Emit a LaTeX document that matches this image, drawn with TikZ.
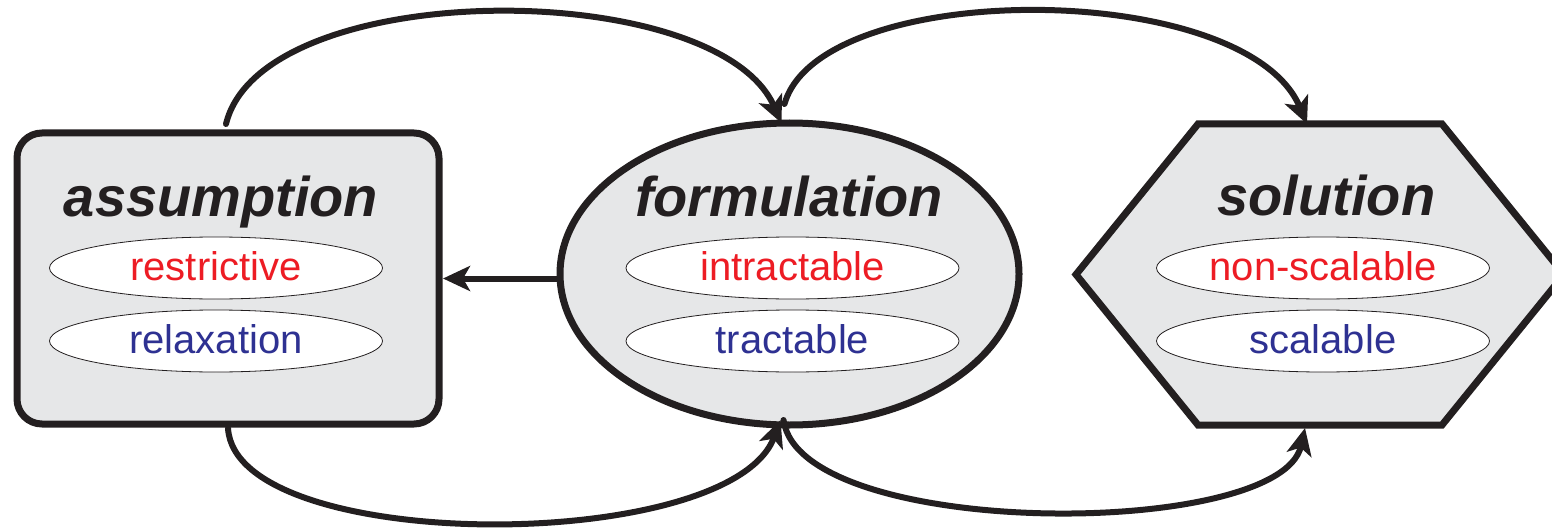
\documentclass[tikz,border=0pt]{standalone}
\usepackage{fontspec}
\setmainfont{Liberation Sans}
\usetikzlibrary{shapes.geometric,arrows.meta,calc}
\definecolor{boxgray}{HTML}{E6E7E8}
\definecolor{ink}{HTML}{231F20}
\definecolor{redtxt}{HTML}{ED1C24}
\definecolor{bluetxt}{HTML}{2E3192}
\begin{document}
\begin{tikzpicture}[x=1pt,y=-1pt,
  mainbox/.style={draw=ink, fill=boxgray, line width=7pt},
  title/.style={font=\fontsize{56}{60}\selectfont\bfseries\itshape, text=ink, anchor=base, inner sep=0pt},
  pill/.style={ellipse, draw=ink, fill=white, line width=0.8pt, minimum width=333pt, minimum height=62pt, inner sep=0pt, font=\fontsize{40}{44}\selectfont, text height=24pt, text depth=0pt},
  conn/.style={draw=ink, line width=6pt, line cap=round, -{Stealth[length=27pt,width=25pt,inset=7pt]}}
]
\useasboundingbox (0,0) rectangle (1552,532);

% assumption
\node[mainbox, rounded corners=25pt, minimum width=422pt, minimum height=291pt, inner sep=0pt, outer sep=0pt] (ass) at (228,278.5) {};
\node[title] (asst) at (221,216) {assumption};
\node[pill, text=redtxt] (ass1) at (216,268) {restrictive};
\node[pill, text=bluetxt] (ass2) at (216,341) {relaxation};

% formulation
\node[mainbox, ellipse, minimum width=459pt, minimum height=302pt, inner sep=0pt, outer sep=0pt] (form) at (789.5,274) {};
\node[title] (formt) at (789,216) {formulation};
\node[pill, text=redtxt] (form1) at (792.5,268) {intractable};
\node[pill, text=bluetxt] (form2) at (792.5,341) {tractable};

% solution
\node[draw=none, minimum width=244pt, minimum height=301pt, inner sep=0pt, outer sep=0pt] (sol) at (1320,274.5) {};
\draw[mainbox, line join=miter] (sol.north west) -- (sol.north east) -- ($(sol.east)+(122,0)$) -- (sol.south east) -- (sol.south west) -- ($(sol.west)-(122,0)$) -- cycle;
\node[title] (solt) at (1326.5,215) {solution};
\node[pill, text=redtxt] (sol1) at (1323,268) {non-scalable};
\node[pill, text=bluetxt] (sol2) at (1323,341) {scalable};

% connectors
\coordinate (a1) at ([xshift=-2pt,yshift=9pt]ass.north);
\coordinate (f1) at ([xshift=-8pt]form.north);
\coordinate (f2) at ([xshift=-5pt,yshift=19pt]form.north);
\coordinate (s1) at ([xshift=-13pt]sol.north);
\coordinate (a2) at ([yshift=-4pt]ass.south);
\coordinate (f3) at ([xshift=-9pt,yshift=5pt]form.south);
\coordinate (f4) at ([xshift=-6pt,yshift=5pt]form.south);
\coordinate (s2) at ([xshift=-15pt,yshift=-3pt]sol.south);

\draw[conn] (a1) .. controls (262,-24) and (716,-24) .. (f1);
\draw[conn] (f2) .. controls (820,-22) and (1245,-22) .. (s1);
\draw[conn] (a2) .. controls (235,555) and (730,555) .. (f3);
\draw[conn] (f4) .. controls (800,540) and (1280,540) .. (s2);
\draw[conn, shorten >=4pt] (form.west |- ass.east) -- (ass.east);
\end{tikzpicture}
\end{document}
